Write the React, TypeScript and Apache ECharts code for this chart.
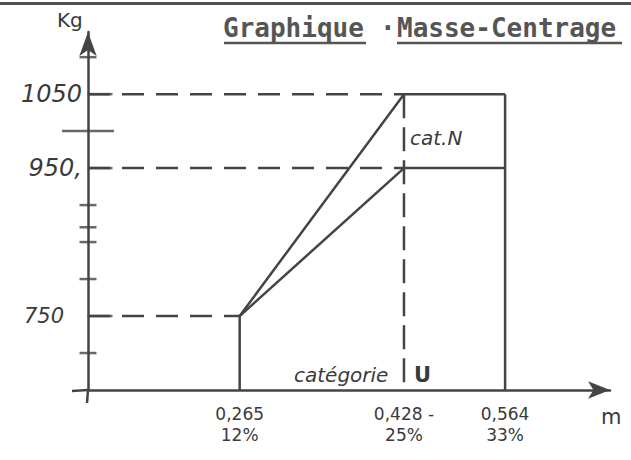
import React, { useEffect, useRef } from "react";
import * as echarts from "echarts";

// --- data ---
const pctPoints = [12, 25, 33]; // % MAC positions on the horizontal axis
const massLevels = [750, 950, 1050]; // kg
const baseMass = 650; // kg at the horizontal axis
const xLabelTop = ["0,265", "0,428 -", "0,564"];
const xLabelBottom = ["12%", "25%", "33%"];
const yLabelText = ["750", "950,", "1050"];
const yTicksCross = [700, 800, 850, 870, 900, 1100];
const yTicksLong = [1000];

const INK = "#444444";
const TXT = "#3a3a3a";

export default function App() {
  const ref = useRef<HTMLDivElement>(null);

  useEffect(() => {
    if (!ref.current) return;
    const chart = echarts.init(ref.current, undefined, { renderer: "svg" });
    const [p12, p25, p33] = pctPoints;
    const [m750, m950, m1050] = massLevels;

    const line = (name: string, data: number[][], type: any, width = 2.5) => ({
      name,
      type: "line",
      data,
      showSymbol: false,
      silent: true,
      lineStyle: { color: INK, width, type },
      z: 3,
    });
    const dash = [22, 12];
    const vdash = [24, 9];

    const ticks = (name: string, vals: number[], size: number[], offset: number[]) => ({
      name,
      type: "scatter",
      data: vals.map((v) => [0, v]),
      symbol: "rect",
      symbolSize: size,
      symbolOffset: offset,
      itemStyle: { color: INK },
      clip: false,
      silent: true,
      z: 4,
    });

    chart.setOption({
      animation: false,
      backgroundColor: "#ffffff",
      grid: {
        left: 88,
        right: 21,
        top: 32,
        bottom: 70,
        containLabel: false,
        outerBoundsMode: "none",
      },
      xAxis: {
        type: "value",
        min: 0,
        max: 41.3,
        splitLine: { show: false },
        axisTick: { show: false },
        axisLine: {
          show: true,
          symbol: ["none", "arrow"],
          symbolSize: [13, 22],
          lineStyle: { color: INK, width: 2.5 },
        },
        axisLabel: {
          customValues: pctPoints,
          margin: 13,
          color: TXT,
          fontFamily: "DejaVu Sans",
          fontSize: 17,
          lineHeight: 21,
          formatter: (v: number) => {
            const i = pctPoints.indexOf(v);
            return i < 0 ? "" : xLabelTop[i] + "\n" + xLabelBottom[i];
          },
        },
      },
      yAxis: {
        type: "value",
        min: baseMass,
        max: 1134,
        splitLine: { show: false },
        axisTick: { show: false },
        axisLine: {
          show: true,
          symbol: ["none", "arrow"],
          symbolSize: [13, 24],
          lineStyle: { color: INK, width: 2.5 },
        },
        axisLabel: {
          customValues: massLevels,
          margin: 6,
          color: TXT,
          fontFamily: "DejaVu Sans",
          fontStyle: "italic",
          fontSize: 24,
          formatter: (v: number) => {
            const i = massLevels.indexOf(v);
            if (i < 0) return "";
            return i === 0 ? `{p|${yLabelText[i]}}` : `{n|${yLabelText[i]}}`;
          },
          rich: {
            p: {
              fontSize: 21,
              fontStyle: "italic",
              fontFamily: "DejaVu Sans",
              color: TXT,
              padding: [0, 18, 0, 0],
            },
            n: {
              fontSize: 24,
              fontStyle: "italic",
              fontFamily: "DejaVu Sans",
              color: TXT,
            },
          },
        },
      },
      series: [
        line("ref1050", [[0, m1050], [p25, m1050]], dash),
        line("ref950", [[0, m950], [p25, m950]], dash),
        line("ref750", [[0, m750], [p12, m750]], dash),
        line("limit25", [[p25, m1050], [p25, baseMass]], vdash),
        line("catN_top", [[p25, m1050], [p33, m1050]], "solid"),
        line("catU_top", [[p25, m950], [p33, m950]], "solid"),
        line("envelope1050", [[p12, baseMass], [p12, m750], [p25, m1050]], "solid"),
        line("envelope950", [[p12, m750], [p25, m950]], "solid"),
        line("limit33", [[p33, m1050], [p33, baseMass]], "solid"),
        ticks("tickCross", yTicksCross, [17, 2.5], [0, 0]),
        ticks("tickLong", yTicksLong, [52, 2.5], [0, 0]),
        ticks("tickLabel", massLevels, [25, 2.5], [12, 0]),
      ],
      graphic: [
        { type: "rect", shape: { x: 0, y: 2, width: 631, height: 3 }, style: { fill: "#505050" }, silent: true },
        // axis overshoot past the origin, as drawn by hand
        { type: "line", shape: { x1: 88, y1: 390, x2: 87, y2: 403 }, style: { stroke: INK, lineWidth: 2.5 } },
        { type: "line", shape: { x1: 72, y1: 391, x2: 88, y2: 390 }, style: { stroke: INK, lineWidth: 2.5 } },
        {
          type: "text",
          x: 223,
          y: 15,
          style: { text: "Graphique", font: "bold 26px 'DejaVu Sans Mono'", fill: "#555555" },
        },
        {
          type: "text",
          x: 380,
          y: 15,
          style: { text: "·", font: "bold 26px 'DejaVu Sans Mono'", fill: "#555555" },
        },
        {
          type: "text",
          x: 397,
          y: 15,
          style: { text: "Masse-Centrage", font: "bold 26px 'DejaVu Sans Mono'", fill: "#555555" },
        },
        { type: "line", shape: { x1: 224, y1: 43, x2: 366, y2: 43 }, style: { stroke: "#555555", lineWidth: 2.5 } },
        { type: "line", shape: { x1: 397, y1: 43, x2: 622, y2: 43 }, style: { stroke: "#555555", lineWidth: 2.5 } },
        {
          type: "text",
          x: 57,
          y: 10,
          style: { text: "Kg", font: "20px 'DejaVu Sans'", fill: TXT },
        },
        {
          type: "text",
          x: 601,
          y: 406,
          style: { text: "m", font: "21px 'DejaVu Sans'", fill: TXT },
        },
        {
          type: "text",
          x: 410,
          y: 128,
          style: { text: "cat.N", font: "italic 20px 'DejaVu Sans'", fill: TXT },
        },
        {
          type: "text",
          x: 294,
          y: 365,
          style: { text: "catégorie", font: "italic 20px 'DejaVu Sans'", fill: TXT },
        },
        {
          type: "text",
          x: 414,
          y: 364,
          style: { text: "U", font: "bold 21px 'DejaVu Sans'", fill: TXT },
        },
      ],
    });
    return () => chart.dispose();
  }, []);

  return (
    <div
      ref={ref}
      style={{ position: "absolute", left: 0, top: 0, width: 631, height: 460, background: "#fff" }}
    />
  );
}
